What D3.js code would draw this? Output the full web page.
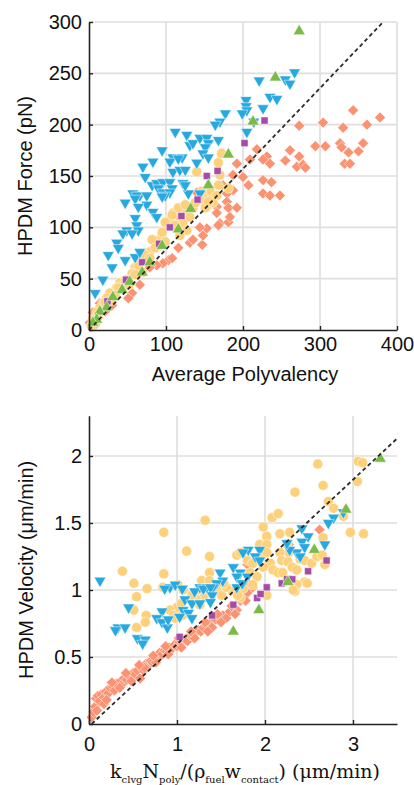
<!DOCTYPE html>
<html>
<head>
<meta charset="utf-8">
<script src="https://cdn.jsdelivr.net/npm/d3@7"></script>
<style>
  body { margin: 0; background: #fff; }
  svg { font-family: "Liberation Sans", Arial, sans-serif; }
</style>
</head>
<body>
<svg id="chart" width="414" height="785"></svg>
<script>
// ---- top panel: HPDM force vs average polyvalency ----
const forceXTicks = [0, 100, 200, 300, 400];
const forceYTicks = [0, 50, 100, 150, 200, 250, 300];
const forceFit = [[0, 0], [382, 300]];

const forceBlue = [[267,251],[255,244],[261,240],[221,243],[235,227],[244,225],[226,216],[204,224],[204,218],[205,214],
  [199,211],[205,193],[214,203],[177,211],[170,203],[164,200],[112,193],[127,190],[131,180],[135,182],[144,187],
  [153,187],[155,182],[151,178],[168,185],[148,172],[155,168],[140,163],[95,175],[109,168],[121,168],[105,164],
  [116,167],[83,164],[70,159],[73,149],[109,154],[118,156],[125,156],[122,143],[129,133],[144,133],[82,141],[88,143],
  [96,144],[105,144],[90,138],[108,138],[125,141],[57,133],[66,131],[62,131],[96,134],[105,134],[99,131],[75,131],
  [60,128],[95,130],[75,122],[64,120],[47,124],[83,115],[88,110],[60,109],[62,102],[64,97],[49,97],[44,94],[56,94],
  [36,85],[38,80],[25,73],[47,68],[30,61],[60,71],[66,76],[18,49],[8,36]];

const forceOrange = [[343,214],[378,207],[361,200],[304,202],[330,197],[273,199],[294,179],[307,179],[326,182],[328,178],
  [356,182],[350,174],[337,173],[332,162],[339,162],[261,175],[273,169],[255,165],[270,159],[278,161],[281,158],
  [218,176],[231,169],[226,166],[235,162],[209,166],[192,162],[187,151],[200,149],[207,141],[226,146],[237,144],
  [226,133],[235,131],[248,131],[187,136],[174,141],[140,134],[179,133],[179,125],[166,120],[181,119],[192,119],
  [166,114],[170,104],[181,105],[183,110],[168,102],[147,83],[131,85],[135,88],[148,92],[153,99],[144,100],[116,80],
  [103,68],[108,70],[96,65],[88,63],[79,61],[66,44],[36,42],[44,41],[56,36],[51,31],[14,26],[18,22],[21,18],[10,13],
  [5,17],[1,7],[8,5],[30,24],[12,12]];

const forceYellow = [[140,154],[168,163],[172,172],[170,151],[181,138],[153,131],[151,129],[160,131],[168,141],[157,136],
  [166,131],[161,124],[144,127],[153,120],[135,119],[127,115],[118,110],[109,114],[105,107],[101,102],[122,104],
  [127,97],[118,92],[92,88],[88,81],[79,76],[75,71],[66,68],[60,61],[70,56],[56,55],[49,49],[40,46],[36,41],[27,36],
  [23,31],[18,26],[14,21],[10,17],[116,119],[125,122],[138,124],[108,112],[99,105],[151,119],[95,95],[82,88],[86,80],
  [73,73],[64,63],[60,54],[47,47],[38,41],[34,34],[21,27],[12,15],[8,8],[155,125],[99,86],[3,4],[5,10],
  [112,102],[131,110],[146,135],[79,70],[52,44],[30,29]];

const forcePurple = [[228,204],[202,182],[153,150],[167,155],[141,127],[120,111],[105,100],[91,84],[69,66],[48,49],[24,28]];

const forceGreen = [[273,291],[242,246],[213,203],[181,171],[155,141],[132,118],[116,98],[95,82],[79,66],[69,56],
  [53,47],[43,39],[31,32],[23,22],[14,18],[10,10],[5,7]];

// ---- bottom panel: HPDM velocity vs predicted velocity ----
const velXTicks = [0, 1, 2, 3];
const velYTicks = [0, 0.5, 1, 1.5, 2];
const velFit = [[0.03, 0], [3.5, 2.13]];

const velBlue = [[0.125,1.07],[2.89,1.58],[2.78,1.54],[2.72,1.50],[2.68,1.34],[2.42,1.46],[2.49,1.40],[2.42,1.36],
  [2.45,1.32],[2.36,1.28],[2.28,1.30],[2.25,1.35],[2.40,1.25],[1.81,1.30],[1.94,1.30],[1.89,1.25],[1.75,1.28],
  [1.94,1.22],[1.64,1.17],[1.72,1.13],[1.68,1.10],[1.80,1.10],[1.75,1.05],[1.49,1.13],[1.52,1.07],[1.45,1.05],
  [1.41,1.02],[1.26,1.02],[1.34,1.02],[0.92,1.02],[0.45,0.87],[0.33,0.72],[0.41,0.72],[0.30,0.70],[0.55,0.64],
  [0.64,0.63],[0.61,0.60],[0.83,0.84],[0.77,0.79],[0.83,0.76],[0.89,0.72],[0.90,0.78],[1.09,0.93],[1.17,0.90],
  [1.07,0.85],[1.13,0.83],[1.03,0.80],[1.17,0.79],[1.20,0.99],[1.30,1.01],[1.38,1.02],[1.40,0.96],[1.38,0.91],
  [1.26,0.90],[0.86,1.01],[0.98,1.04],[1.06,1.01],[1.68,1.02],[1.74,1.05]];

const velOrange = [[0.03,0.05],[0.05,0.09],[0.07,0.13],[0.08,0.19],[0.10,0.21],[0.12,0.17],[0.14,0.22],[0.17,0.20],
  [0.19,0.24],[0.22,0.23],[0.24,0.27],[0.27,0.28],[0.29,0.25],[0.31,0.30],[0.33,0.29],[0.36,0.32],[0.38,0.30],
  [0.40,0.34],[0.43,0.33],[0.45,0.36],[0.47,0.35],[0.50,0.38],[0.52,0.37],[0.55,0.40],[0.58,0.34],[0.60,0.42],
  [0.62,0.40],[0.65,0.45],[0.68,0.44],[0.70,0.47],[0.72,0.46],[0.75,0.50],[0.78,0.49],[0.80,0.53],[0.83,0.52],
  [0.86,0.55],[0.88,0.54],[0.91,0.57],[0.94,0.56],[0.97,0.59],[1.00,0.58],[1.03,0.61],[1.06,0.60],[1.09,0.63],
  [1.12,0.62],[1.15,0.66],[1.18,0.65],[1.21,0.68],[1.24,0.70],[1.27,0.69],[1.30,0.72],[1.34,0.73],[1.37,0.75],
  [1.40,0.72],[1.44,0.78],[1.48,0.80],[1.52,0.81],[1.56,0.79],[1.60,0.84],[1.64,0.87],[1.68,0.85],[1.72,0.92],
  [1.76,0.95],[1.80,0.98],[1.86,1.02],[1.80,1.19],[1.81,1.05],[2.27,1.34],[2.62,1.45],[0.17,0.15],[0.09,0.10],
  [0.20,0.18],[0.35,0.27],[0.48,0.32],[0.63,0.42],[0.76,0.46],[0.90,0.52],[1.05,0.57],[1.20,0.64],[1.35,0.69],
  [1.50,0.76],[1.66,0.82],[1.78,0.92],[0.26,0.31],[0.42,0.38],[0.57,0.44],[0.73,0.51],[0.87,0.58],[1.02,0.64],
  [1.16,0.69],[1.32,0.76],[1.46,0.82],[1.62,0.88]];

const velYellow = [[2.60,1.94],[3.06,1.96],[3.11,1.95],[3.05,1.81],[2.66,1.78],[2.34,1.73],[2.72,1.66],[2.78,1.61],
  [2.89,1.55],[2.97,1.43],[3.12,1.42],[2.08,1.54],[2.15,1.57],[1.98,1.47],[2.17,1.42],[2.28,1.43],[2.66,1.39],
  [1.32,1.52],[0.85,1.43],[1.11,1.29],[1.37,1.25],[1.68,1.26],[2.02,1.40],[1.94,1.34],[2.02,1.34],[2.25,1.34],
  [2.27,1.28],[2.17,1.28],[2.19,1.22],[2.26,1.21],[2.31,1.17],[2.40,1.23],[2.45,1.22],[2.53,1.20],[2.59,1.25],
  [2.65,1.26],[2.68,1.19],[1.94,1.25],[2.02,1.28],[2.06,1.20],[1.98,1.17],[2.09,1.15],[2.15,1.13],[2.20,1.13],
  [2.36,1.15],[2.45,1.06],[2.34,0.99],[2.36,1.04],[1.72,1.28],[1.80,1.22],[1.86,1.20],[1.83,1.13],[1.91,1.10],
  [1.86,1.04],[2.02,0.96],[1.75,1.01],[1.72,0.94],[0.38,1.14],[0.85,1.12],[1.37,1.13],[0.51,1.05],[0.66,1.01],
  [0.84,1.02],[1.01,1.04],[1.28,1.07],[1.37,1.07],[1.07,1.00],[0.54,0.95],[0.51,0.85],[0.65,0.81],[0.64,0.76],
  [0.54,0.72],[1.00,0.87],[1.05,0.90],[0.92,0.85],[0.96,0.81],[1.06,0.81],[0.98,0.79],[1.26,1.00],[1.34,0.98],
  [1.30,0.94],[1.22,0.93],[1.26,0.89],[1.17,0.96],[1.47,1.00],[1.51,0.96],[1.63,0.99],[1.69,0.96],[1.56,1.02],
  [2.48,1.05],[2.32,1.00],[1.53,1.05]];

const velPurple = [[1.03,0.65],[1.40,0.81],[1.64,0.89],[1.91,0.94],[2.02,1.02],[2.19,1.05],[2.25,1.08],[2.31,1.08],
  [2.49,1.14],[2.70,1.22],[1.95,0.97]];

const velGreen = [[3.31,1.98],[2.92,1.60],[2.56,1.30],[2.26,1.06],[1.93,0.85],[1.64,0.69]];

const BLUE = '#27a8df', ORANGE = '#fb9271', YELLOW = '#fdd17c', PURPLE = '#a64ca8', GREEN = '#7abb48';

const svg = d3.select('#chart');
svg.append('rect').attr('width', 414).attr('height', 785).attr('fill', '#fff');

function drawPanel(p) {
  const x = d3.scaleLinear().domain(p.xDomain).range([89, 397]);
  const y = d3.scaleLinear().domain(p.yDomain).range(p.yRange);
  const g = svg.append('g');

  // grid
  g.append('g').selectAll('line').data(p.xGrid).join('line')
    .attr('x1', d => x(d)).attr('x2', d => x(d))
    .attr('y1', p.yRange[0]).attr('y2', p.yRange[1])
    .attr('stroke', '#dedede').attr('stroke-width', 1.6);
  g.append('g').selectAll('line').data(p.yGrid).join('line')
    .attr('x1', 89).attr('x2', 397)
    .attr('y1', d => y(d)).attr('y2', d => y(d))
    .attr('stroke', '#dedede').attr('stroke-width', 1.6);

  const series = [
    { data: p.orange, type: d3.symbolSquare, size: 60, rot: 45, color: ORANGE },
    { data: p.yellow, type: d3.symbolCircle, size: 80, rot: 0, color: YELLOW },
    { data: p.blue, type: d3.symbolTriangle, size: 60, rot: 180, color: BLUE },
    { data: p.purple, type: d3.symbolSquare, size: 50, rot: 0, color: PURPLE },
    { data: p.green, type: d3.symbolTriangle, size: 62, rot: 0, color: GREEN }
  ];

  series.forEach(s => {
    g.append('g').selectAll('path').data(s.data).join('path')
      .attr('transform', d => `translate(${x(d[0])},${y(d[1])}) rotate(${s.rot})`)
      .attr('d', d3.symbol(s.type, s.size))
      .attr('fill', s.color)
      .attr('stroke', '#fff')
      .attr('stroke-width', 0.5);
  });

  // unity / fit line
  g.append('path').datum(p.fit)
    .attr('d', d3.line().x(d => x(d[0])).y(d => y(d[1])))
    .attr('fill', 'none')
    .attr('stroke', '#2b2b2b')
    .attr('stroke-width', 1.8)
    .attr('stroke-dasharray', '4,3');

  const xAxis = d3.axisBottom(x).tickValues(p.xTicks).tickFormat(d => d)
    .tickSize(-4).tickSizeOuter(0).tickPadding(p.xPad);
  const yAxis = d3.axisLeft(y).tickValues(p.yTicks).tickFormat(d => d)
    .tickSize(-4).tickSizeOuter(0).tickPadding(7);

  [[xAxis, `translate(0,${p.yRange[0]})`], [yAxis, 'translate(89,0)']].forEach(([ax, tr]) => {
    const a = g.append('g').attr('transform', tr).call(ax);
    a.attr('font-size', 20).attr('font-family', '"Liberation Sans", Arial, sans-serif');
    a.select('.domain').attr('stroke', '#222').attr('stroke-width', 1.6);
    a.selectAll('.tick line').attr('stroke', '#222').attr('stroke-width', 1.4);
    a.selectAll('.tick text').attr('fill', '#111');
  });

  g.append('text')
    .attr('transform', `translate(${p.yLabelX},${(p.yRange[0] + p.yRange[1]) / 2}) rotate(-90)`)
    .attr('text-anchor', 'middle')
    .attr('font-size', 20)
    .attr('fill', '#111')
    .text(p.yLabel);

  return { x, y, g };
}

const forcePanel = drawPanel({
  xDomain: [0, 400], yDomain: [0, 300], yRange: [330, 22],
  xGrid: [100, 200, 300, 400], yGrid: [50, 100, 150, 200, 250, 300],
  xTicks: forceXTicks, yTicks: forceYTicks, xPad: 7,
  blue: forceBlue, orange: forceOrange, yellow: forceYellow, purple: forcePurple, green: forceGreen,
  fit: forceFit, yLabel: 'HPDM Force (pN)', yLabelX: 32
});
forcePanel.g.append('text')
  .attr('x', 245).attr('y', 381)
  .attr('text-anchor', 'middle')
  .attr('font-size', 20)
  .attr('fill', '#111')
  .text('Average Polyvalency');

const velPanel = drawPanel({
  xDomain: [0, 3.5], yDomain: [0, 2.3], yRange: [724, 415.8],
  xGrid: [1, 2, 3], yGrid: [0.5, 1, 1.5, 2],
  xTicks: velXTicks, yTicks: velYTicks, xPad: 13,
  blue: velBlue, orange: velOrange, yellow: velYellow, purple: velPurple, green: velGreen,
  fit: velFit, yLabel: 'HPDM Velocity (\u03bcm/min)', yLabelX: 33
});

// serif axis label with subscripts
const lbl = velPanel.g.append('text')
  .attr('x', 245).attr('y', 778)
  .attr('text-anchor', 'middle')
  .style('font-family', '"DejaVu Serif", "Liberation Serif", serif')
  .attr('font-size', 19)
  .attr('fill', '#111');
const parts = [
  ['k', false], ['clvg', true], ['N', false], ['poly', true], ['/(\u03c1', false], ['fuel', true],
  ['w', false], ['contact', true], [') (\u03bcm/min)', false]
];
let low = false;
parts.forEach(([t, sub]) => {
  const ts = lbl.append('tspan').text(t);
  if (sub && !low) { ts.attr('dy', 5).attr('font-size', 10); low = true; }
  else if (sub) { ts.attr('font-size', 10); }
  else if (low) { ts.attr('dy', -5); low = false; }
});
</script>
</body>
</html>
